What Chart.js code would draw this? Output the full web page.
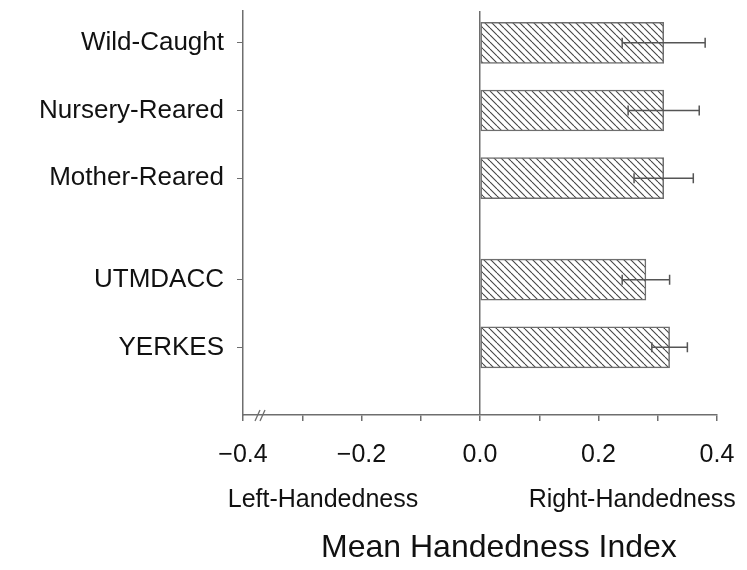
<!DOCTYPE html>
<html>
<head>
<meta charset="utf-8">
<script src="https://cdn.jsdelivr.net/npm/chart.js@4.4.1/dist/chart.umd.min.js"></script>
<style>
  html, body { margin: 0; padding: 0; background: #fff; }
</style>
</head>
<body>
<canvas id="chart" width="747" height="570"></canvas>
<script>
/* ── Handedness chart ─────────────────────────────────────────────────────── */

// Data
const GROUPS = [
  ['Wild-Caught', 'Nursery-Reared', 'Mother-Reared'],
  ['UTMDACC', 'YERKES'],
];
const MEANS  = [0.31, 0.31, 0.31, 0.28, 0.32];
const ERRORS = [0.07, 0.06, 0.05, 0.04, 0.03];
const X_LABELS = [-0.4, -0.2, 0.0, 0.2, 0.4];

// Layout
const GROUP_GAP = 0.5;
const AXIS = '#6e6e6e';
const FONT = '"Liberation Sans", Arial, sans-serif';

const LABELS = GROUPS.flat();
const ROWS = [];
let row = 0;
GROUPS.forEach((g, gi) => {
  if (gi > 0) row += GROUP_GAP;
  g.forEach(() => { ROWS.push(row); row += 1; });
});

// ── Helpers ──────────────────────────────────────────────────────────────────
function hatchPattern() {
  const s = 7;
  const c = document.createElement('canvas');
  c.width = s; c.height = s;
  const g = c.getContext('2d');
  g.fillStyle = '#fff';
  g.fillRect(0, 0, s, s);
  g.strokeStyle = '#444';
  g.lineWidth = 1.1;
  [-s, 0, s].forEach(x0 => {
    g.beginPath();
    g.moveTo(x0, 0);
    g.lineTo(x0 + s, s);
    g.stroke();
  });
  return document.getElementById('chart').getContext('2d').createPattern(c, 'repeat');
}

function fmt(v) {
  const t = Math.abs(v).toFixed(1);
  return v < -1e-9 ? '\u2212' + t : t;
}

// ── Plugins ──────────────────────────────────────────────────────────────────
const errorBars = {
  id: 'errorBars',
  afterDatasetsDraw(chart) {
    const { ctx, scales: { x, y } } = chart;
    ctx.save();
    ctx.strokeStyle = '#555';
    ctx.lineWidth = 1.5;
    MEANS.forEach((m, i) => {
      const py = y.getPixelForValue(ROWS[i]);
      const x1 = x.getPixelForValue(m - ERRORS[i]);
      const x2 = x.getPixelForValue(m + ERRORS[i]);
      ctx.beginPath();
      ctx.moveTo(x1, py); ctx.lineTo(x2, py);
      ctx.moveTo(x1, py - 5); ctx.lineTo(x1, py + 5);
      ctx.moveTo(x2, py - 5); ctx.lineTo(x2, py + 5);
      ctx.stroke();
    });
    ctx.restore();
  },
};

const extraText = {
  id: 'extraText',
  afterDraw(chart) {
    const { ctx, chartArea: a, scales: { x } } = chart;
    ctx.save();
    // axis break marks
    ctx.strokeStyle = AXIS;
    ctx.lineWidth = 1.3;
    [12, 17].forEach(dx => {
      ctx.beginPath();
      ctx.moveTo(a.left + dx, a.bottom + 6);
      ctx.lineTo(a.left + dx + 5, a.bottom - 5);
      ctx.stroke();
    });
    ctx.fillStyle = '#111';
    ctx.textAlign = 'center';
    ctx.textBaseline = 'middle';
    ctx.font = '25px ' + FONT;
    ctx.fillText('Left-Handedness', x.getPixelForValue(-0.265), a.bottom + 85);
    ctx.fillText('Right-Handedness', x.getPixelForValue(0.257), a.bottom + 85);
    ctx.font = '32px ' + FONT;
    ctx.fillText('Mean Handedness Index', x.getPixelForValue(0.032), a.bottom + 133);
    ctx.restore();
  },
};

// ── Chart ────────────────────────────────────────────────────────────────────
new Chart(document.getElementById('chart'), {
  type: 'bar',
  data: {
    datasets: [{
      data: MEANS.map((m, i) => ({ x: m, y: ROWS[i] })),
      backgroundColor: hatchPattern(),
      borderColor: AXIS,
      borderWidth: 1.5,
      borderSkipped: false,
      barThickness: 41,
    }],
  },
  options: {
    indexAxis: 'y',
    responsive: false,
    animation: false,
    layout: { padding: { top: 11, right: 30, left: 0, bottom: 0 } },
    plugins: { legend: { display: false }, tooltip: { enabled: false } },
    scales: {
      x: {
        type: 'linear', min: -0.4, max: 0.4,
        afterBuildTicks: s => {
          const t = [];
          for (let k = -4; k <= 4; k++) t.push({ value: k / 10 });
          s.ticks = t;
        },
        afterFit: s => { s.height = 155; s.paddingLeft = 0; s.paddingRight = 0; },
        border: { display: true, color: AXIS, width: 1.5 },
        grid: {
          drawOnChartArea: true,
          color: c => (c.tick && Math.abs(c.tick.value) < 1e-9 ? AXIS : 'rgba(0,0,0,0)'),
          lineWidth: 1.5,
          tickColor: AXIS,
          tickLength: 6,
        },
        ticks: {
          autoSkip: false, maxRotation: 0,
          padding: 19,
          color: '#111',
          font: { family: FONT, size: 25 },
          callback: v => (X_LABELS.some(l => Math.abs(l - v) < 1e-9) ? fmt(v) : ''),
        },
      },
      y: {
        type: 'linear', reverse: true, min: -0.47, max: 5.5,
        offset: false,
        afterBuildTicks: s => { s.ticks = ROWS.map(v => ({ value: v })); },
        afterFit: s => { s.width = 243; s.paddingTop = 0; s.paddingBottom = 0; },
        border: { display: true, color: AXIS, width: 1.5 },
        grid: { offset: false, drawOnChartArea: false, tickColor: AXIS, tickLength: 6 },
        ticks: {
          autoSkip: false,
          padding: 13,
          color: '#111',
          font: { family: FONT, size: 26 },
          callback: (v, i) => LABELS[i],
        },
      },
    },
  },
  plugins: [errorBars, extraText],
});
</script>
</body>
</html>
